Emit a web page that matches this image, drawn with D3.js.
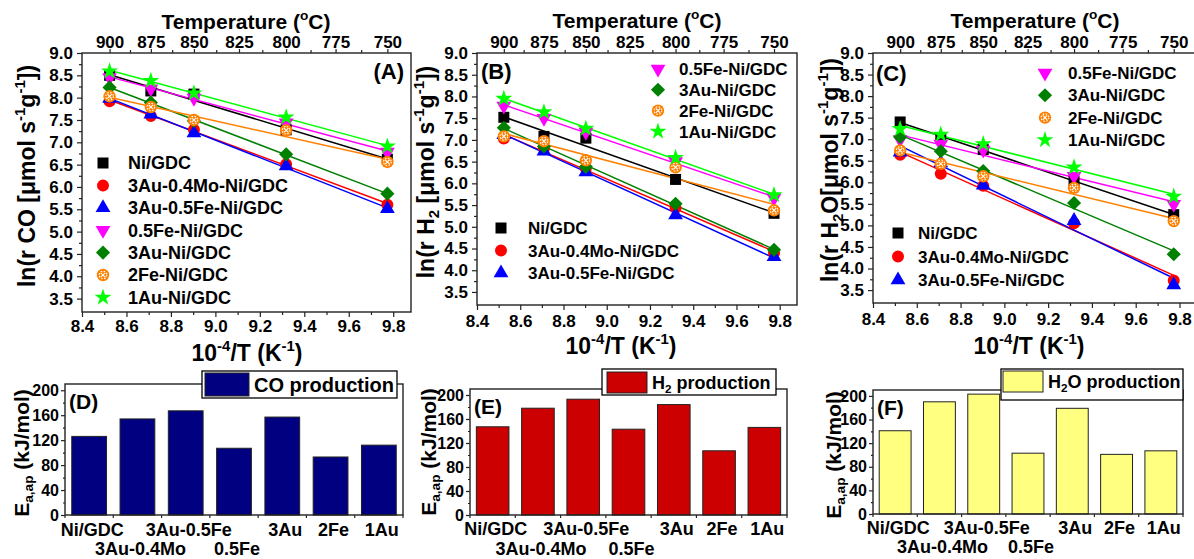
<!DOCTYPE html>
<html>
<head>
<meta charset="utf-8">
<script src="https://cdn.jsdelivr.net/npm/d3@7"></script>
<style>
body { margin: 0; background: #fff; }
text { font-family: "Liberation Sans", Arial, sans-serif; font-weight: bold; fill: #000; }
</style>
</head>
<body>
<svg id="fig" width="1194" height="559"></svg>
<script>
// measurement temperatures (deg C)
var temps = [900, 875, 850, 800, 750];
var tempTicks = [900, 875, 850, 825, 800, 775, 750];
var tempMinor = [887.5, 862.5, 837.5, 812.5, 787.5, 762.5];
var invTTicks = [8.4, 8.6, 8.8, 9.0, 9.2, 9.4, 9.6, 9.8];
var invTMinor = [8.5, 8.7, 8.9, 9.1, 9.3, 9.5, 9.7];
var lnTicks = [3.5, 4.0, 4.5, 5.0, 5.5, 6.0, 6.5, 7.0, 7.5, 8.0, 8.5, 9.0];
var lnMinor = [3.75, 4.25, 4.75, 5.25, 5.75, 6.25, 6.75, 7.25, 7.75, 8.25, 8.75];

var names = ["Ni/GDC", "3Au-0.4Mo-Ni/GDC", "3Au-0.5Fe-Ni/GDC", "0.5Fe-Ni/GDC",
             "3Au-Ni/GDC", "2Fe-Ni/GDC", "1Au-Ni/GDC"];

// ln(rate) per catalyst, same order as names, one value per temperature
var lnCO = [
  [8.50, 8.15, 8.08, 7.28, 6.62],
  [7.92, 7.59, 7.28, 6.51, 5.60],
  [7.98, 7.63, 7.21, 6.47, 5.51],
  [8.45, 8.20, 7.99, 7.44, 6.78],
  [8.23, 7.89, 7.48, 6.73, 5.85],
  [8.03, 7.79, 7.50, 7.27, 6.56],
  [8.59, 8.38, 8.10, 7.56, 6.91]
];
var lnH2 = [
  [7.52, 7.08, 7.04, 6.09, 5.31],
  [7.03, 6.80, 6.35, 5.43, 4.40],
  [7.12, 6.74, 6.26, 5.27, 4.31],
  [7.78, 7.50, 7.18, 6.50, 5.66],
  [7.28, 6.85, 6.38, 5.53, 4.47],
  [7.08, 6.97, 6.53, 6.37, 5.38],
  [7.95, 7.64, 7.26, 6.59, 5.73]
];
var lnH2O = [
  [7.40, 7.04, 6.76, 6.03, 5.25],
  [6.64, 6.20, 5.92, 5.05, 3.72],
  [6.70, 6.45, 5.93, 5.11, 3.62],
  [6.99, 6.89, 6.75, 6.14, 5.49],
  [7.05, 6.72, 6.26, 5.52, 4.33],
  [6.74, 6.43, 6.14, 5.87, 5.10],
  [7.24, 7.11, 6.89, 6.35, 5.67]
];

// apparent activation energies (kJ/mol)
var barCats = ["Ni/GDC", "3Au-0.4Mo", "3Au-0.5Fe", "0.5Fe", "3Au", "2Fe", "1Au"];
var eaCO = [126, 154, 167, 107, 157, 93, 112];
var eaH2 = [147, 178, 193, 143, 184, 107, 146];
var eaH2O = [141, 190, 203, 103, 179, 101, 107];
var eaTicks = [0, 40, 80, 120, 160, 200];
var eaMinor = [20, 60, 100, 140, 180];

var colors = ["#000000", "#ff0000", "#0000ff", "#ff00ff", "#008000", "#ff8000", "#00ff00"];
var shapes = [d3.symbolSquare, d3.symbolCircle, d3.symbolTriangle, d3.symbolTriangle, d3.symbolSquare, null, d3.symbolStar];
var shapeSize = [121, 113, 95, 95, 100, 0, 90];
var shapeRot = [0, 0, 0, 180, 45, 0, 0];

var svg = d3.select("#fig");
var axisColor = "#222";

// text with sup/sub pieces
function rich(t, parts, size) {
  var cur = 0;
  parts.forEach(function(p) {
    var target = 0, s = size;
    if (p[1] === "sup") { target = -size * 0.42; s = size * 0.65; }
    if (p[1] === "sub") { target = size * 0.22; s = size * 0.65; }
    t.append("tspan").attr("font-size", s).attr("dy", target - cur).text(p[0]);
    cur = target;
  });
  return t;
}

function marker(g, k, x, y) {
  if (k === 5) {
    g.append("circle").attr("cx", x).attr("cy", y).attr("r", 6.2).attr("fill", colors[k]);
    g.append("circle").attr("cx", x).attr("cy", y).attr("r", 3.8).attr("fill", "none")
      .attr("stroke", "#fff").attr("stroke-width", 1.1).attr("stroke-dasharray", "1.6,1.4");
    g.append("path").attr("d", "M" + (x - 2.2) + "," + (y - 2.2) + "L" + (x + 2.2) + "," + (y + 2.2) +
      "M" + (x - 2.2) + "," + (y + 2.2) + "L" + (x + 2.2) + "," + (y - 2.2))
      .attr("stroke", "#fff").attr("stroke-width", 1.1);
    return;
  }
  g.append("path")
    .attr("d", d3.symbol().type(shapes[k]).size(shapeSize[k])())
    .attr("transform", "translate(" + x + "," + y + ") rotate(" + shapeRot[k] + ")")
    .attr("fill", colors[k]);
}

function styleAxis(sel, size) {
  sel.attr("font-size", size).attr("font-family", null).style("color", axisColor);
  sel.select(".domain").remove();
  sel.selectAll("line").attr("stroke-width", 1.2);
}

function linePanel(p) {
  var g = svg.append("g");
  var x = d3.scaleLinear().domain([8.4, 9.88]).range([p.left, p.right]);
  var y = d3.scaleLinear().domain([3.2, 9.0]).range([p.bottom, p.top]);
  var inv = function(t) { return 1e4 / (t + 273.15); };

  g.append("g").attr("transform", "translate(0," + p.bottom + ")")
    .call(d3.axisBottom(x).tickValues(invTMinor).tickSize(3).tickFormat(""))
    .call(styleAxis, 17);
  g.append("g").attr("transform", "translate(0," + p.bottom + ")")
    .call(d3.axisBottom(x).tickValues(invTTicks).tickSize(5).tickPadding(p.xPad).tickFormat(d3.format(".1f")))
    .call(styleAxis, 17);
  g.append("g").attr("transform", "translate(" + p.left + ",0)")
    .call(d3.axisLeft(y).tickValues(lnMinor).tickSize(3).tickFormat(""))
    .call(styleAxis, 17);
  g.append("g").attr("transform", "translate(" + p.left + ",0)")
    .call(d3.axisLeft(y).tickValues(lnTicks).tickSize(5).tickPadding(4).tickFormat(d3.format(".1f")))
    .call(styleAxis, 17);
  var xt = d3.scaleLinear().domain([inv(900), inv(750)]).range([x(inv(900)), x(inv(750))]);
  g.append("g").attr("transform", "translate(0," + p.top + ")")
    .call(d3.axisTop(xt).tickValues(tempMinor.map(inv)).tickSize(3).tickFormat(""))
    .call(styleAxis, 17);
  g.append("g").attr("transform", "translate(0," + p.top + ")")
    .call(d3.axisTop(xt).tickValues(tempTicks.map(inv)).tickSize(4).tickPadding(1)
      .tickFormat(function(v) { return Math.round(1e4 / v - 273.15); }))
    .call(styleAxis, 17);

  g.append("rect").attr("x", p.left).attr("y", p.top)
    .attr("width", p.right - p.left).attr("height", p.bottom - p.top)
    .attr("fill", "none").attr("stroke", axisColor).attr("stroke-width", 1.4);

  var clip = "clip" + p.id;
  g.append("clipPath").attr("id", clip).append("rect")
    .attr("x", p.left).attr("y", p.top).attr("width", Math.min(p.right, 1194) - p.left).attr("height", p.bottom - p.top);
  var plot = g.append("g").attr("clip-path", "url(#" + clip + ")");
  var xs = temps.map(inv);

  // least-squares fit lines
  p.data.forEach(function(vals, k) {
    var mx = d3.mean(xs), my = d3.mean(vals);
    var sxy = d3.sum(xs, function(v, i) { return (v - mx) * (vals[i] - my); });
    var sxx = d3.sum(xs, function(v) { return (v - mx) * (v - mx); });
    var b = sxy / sxx, a = my - b * mx;
    plot.append("line")
      .attr("x1", x(xs[0])).attr("y1", y(a + b * xs[0]))
      .attr("x2", x(xs[4])).attr("y2", y(a + b * xs[4]))
      .attr("stroke", colors[k]).attr("stroke-width", 1.5);
  });
  p.data.forEach(function(vals, k) {
    vals.forEach(function(v, i) { marker(plot, k, x(xs[i]), y(v)); });
  });

  p.legend.forEach(function(L) {
    L.idx.forEach(function(k, j) {
      var cy = L.y0 + j * L.dy;
      marker(g, k, L.sx, cy);
      g.append("text").attr("x", L.tx).attr("y", cy + L.size * 0.36)
        .attr("font-size", L.size).text(names[k]);
    });
  });

  g.append("text").attr("x", p.letter[0]).attr("y", p.letter[1])
    .attr("text-anchor", p.letter[2]).attr("font-size", 22).text(p.letterText);

  rich(g.append("text").attr("x", p.topTitle[0]).attr("y", p.topTitle[1])
    .attr("text-anchor", "middle").attr("font-size", 21),
    [["Temperature ("], ["o", "sup"], ["C)"]], 21);
  rich(g.append("text").attr("x", p.xTitle[0]).attr("y", p.xTitle[1])
    .attr("text-anchor", "middle").attr("font-size", 23),
    [["10"], ["-4", "sup"], ["/T (K"], ["-1", "sup"], [")"]], 23);
  rich(g.append("text")
    .attr("transform", "translate(" + (p.yTitle[0] + 8) + "," + p.yTitle[1] + ") rotate(-90)")
    .attr("text-anchor", "middle").attr("font-size", 23), p.yParts, 23);
}

function barPanel(p) {
  var g = svg.append("g");
  var x = d3.scaleBand().domain(barCats).range([p.left, p.right]).paddingInner(0.28).paddingOuter(0.14);
  var y = d3.scaleLinear().domain([0, 210]).range([p.bottom, p.top]);

  g.selectAll("rect.bar").data(p.data).enter().append("rect").attr("class", "bar")
    .attr("x", function(d, i) { return x(barCats[i]); })
    .attr("y", function(d) { return y(d); })
    .attr("width", x.bandwidth())
    .attr("height", function(d) { return p.bottom - y(d); })
    .attr("fill", p.color).attr("stroke", "#222").attr("stroke-width", 1);

  g.append("rect").attr("x", p.left).attr("y", p.top)
    .attr("width", p.right - p.left).attr("height", p.bottom - p.top)
    .attr("fill", "none").attr("stroke", axisColor).attr("stroke-width", 1.4);

  g.append("g").attr("transform", "translate(" + p.left + ",0)")
    .call(d3.axisLeft(y).tickValues(eaMinor).tickSize(2).tickFormat(""))
    .call(styleAxis, 16);
  g.append("g").attr("transform", "translate(" + p.left + ",0)")
    .call(d3.axisLeft(y).tickValues(eaTicks).tickSize(4).tickPadding(2).tickFormat(d3.format("d")))
    .call(styleAxis, 16);

  var edges = barCats.map(function(c) { return x(c) - x.step() * x.paddingInner() / 2; });
  edges.push(p.right);
  g.selectAll("line.edge").data(edges).enter().append("line")
    .attr("x1", function(d) { return d; }).attr("x2", function(d) { return d; })
    .attr("y1", p.bottom).attr("y2", p.bottom + 3)
    .attr("stroke", axisColor).attr("stroke-width", 1.2);

  var row = [0, 1, 0, 1, 0, 0, 0];
  barCats.forEach(function(c, i) {
    g.append("text").attr("x", x(c) + x.bandwidth() / 2 + 3)
      .attr("y", row[i] ? p.row2 : p.row1)
      .attr("text-anchor", "middle").attr("font-size", 18).text(c);
  });

  // legend box
  var L = p.legendBox;
  g.append("rect").attr("x", L[0]).attr("y", L[1]).attr("width", L[2] - L[0]).attr("height", L[3] - L[1])
    .attr("fill", "#fff").attr("stroke", "#000").attr("stroke-width", 1.3);
  var S = p.swatch;
  g.append("rect").attr("x", S[0]).attr("y", S[1]).attr("width", S[2] - S[0]).attr("height", S[3] - S[1])
    .attr("fill", p.color).attr("stroke", "#222").attr("stroke-width", 1);
  rich(g.append("text").attr("x", S[2] + 5).attr("y", (S[1] + S[3]) / 2 + p.legendSize * 0.35)
    .attr("font-size", p.legendSize), p.legendParts, p.legendSize);

  g.append("text").attr("x", p.left + 4).attr("y", p.top + 25).attr("font-size", 21).text(p.letterText);

  rich(g.append("text")
    .attr("transform", "translate(" + (p.yTitle[0] + 7.5) + "," + p.yTitle[1] + ") rotate(-90)")
    .attr("text-anchor", "middle").attr("font-size", 21),
    [["E"], ["a,ap", "sub"], [" (kJ/mol)"]], 21);
}

var yTail = [["-1", "sup"], ["g"], ["-1", "sup"], ["])"]];

linePanel({
  id: "A", left: 82, right: 411, top: 53, bottom: 312, xPad: 3, data: lnCO,
  legend: [{ idx: [0, 1, 2, 3, 4, 5, 6], sx: 103, tx: 128, y0: 163, dy: 22.4, size: 18 }],
  letter: [404, 79, "end"], letterText: "(A)",
  topTitle: [246, 29], xTitle: [247, 361], yTitle: [27, 176],
  yParts: [["ln(r CO [\u03bcmol s"]].concat(yTail)
});
linePanel({
  id: "B", left: 477, right: 797, top: 53, bottom: 305, xPad: 5, data: lnH2,
  legend: [{ idx: [3, 4, 5, 6], sx: 658, tx: 679, y0: 69, dy: 20.8, size: 17 },
           { idx: [0, 1, 2], sx: 501, tx: 528, y0: 228, dy: 22.5, size: 17 }],
  letter: [481, 79, "start"], letterText: "(B)",
  topTitle: [637, 28], xTitle: [621, 354], yTitle: [426, 172],
  yParts: [["ln(r H"], ["2", "sub"], [" [\u03bcmol s"]].concat(yTail)
});
linePanel({
  id: "C", left: 873, right: 1197, top: 53, bottom: 303, xPad: 5, data: lnH2O,
  legend: [{ idx: [3, 4, 5, 6], sx: 1045, tx: 1068, y0: 73, dy: 22.3, size: 17 },
           { idx: [0, 1, 2], sx: 898, tx: 918, y0: 233, dy: 23.5, size: 17 }],
  letter: [876, 81, "start"], letterText: "(C)",
  topTitle: [1035, 28], xTitle: [1029, 354], yTitle: [830, 170],
  yParts: [["ln(r H"], ["2", "sub"], ["O[\u03bcmol s"]].concat(yTail)
});

barPanel({
  left: 65, right: 403, top: 384, bottom: 515, data: eaCO, color: "#000080",
  row1: 536, row2: 555, legendBox: [202, 371, 397, 398], swatch: [205, 373, 249, 396],
  legendParts: [["CO production"]], legendSize: 20, letterText: "(D)", yTitle: [21, 453]
});
barPanel({
  left: 470, right: 787, top: 389, bottom: 515, data: eaH2, color: "#cc0000",
  row1: 535, row2: 555, legendBox: [602, 369, 776, 395], swatch: [607, 372, 647, 393],
  legendParts: [["H"], ["2", "sub"], [" production"]], legendSize: 18, letterText: "(E)", yTitle: [428, 452]
});
barPanel({
  left: 873, right: 1183, top: 390, bottom: 514, data: eaH2O, color: "#ffff80",
  row1: 534, row2: 553, legendBox: [1001, 369, 1183, 400], swatch: [1003, 371, 1043, 392],
  legendParts: [["H"], ["2", "sub"], ["O production"]], legendSize: 18, letterText: "(F)", yTitle: [833, 455]
});
</script>
</body>
</html>
